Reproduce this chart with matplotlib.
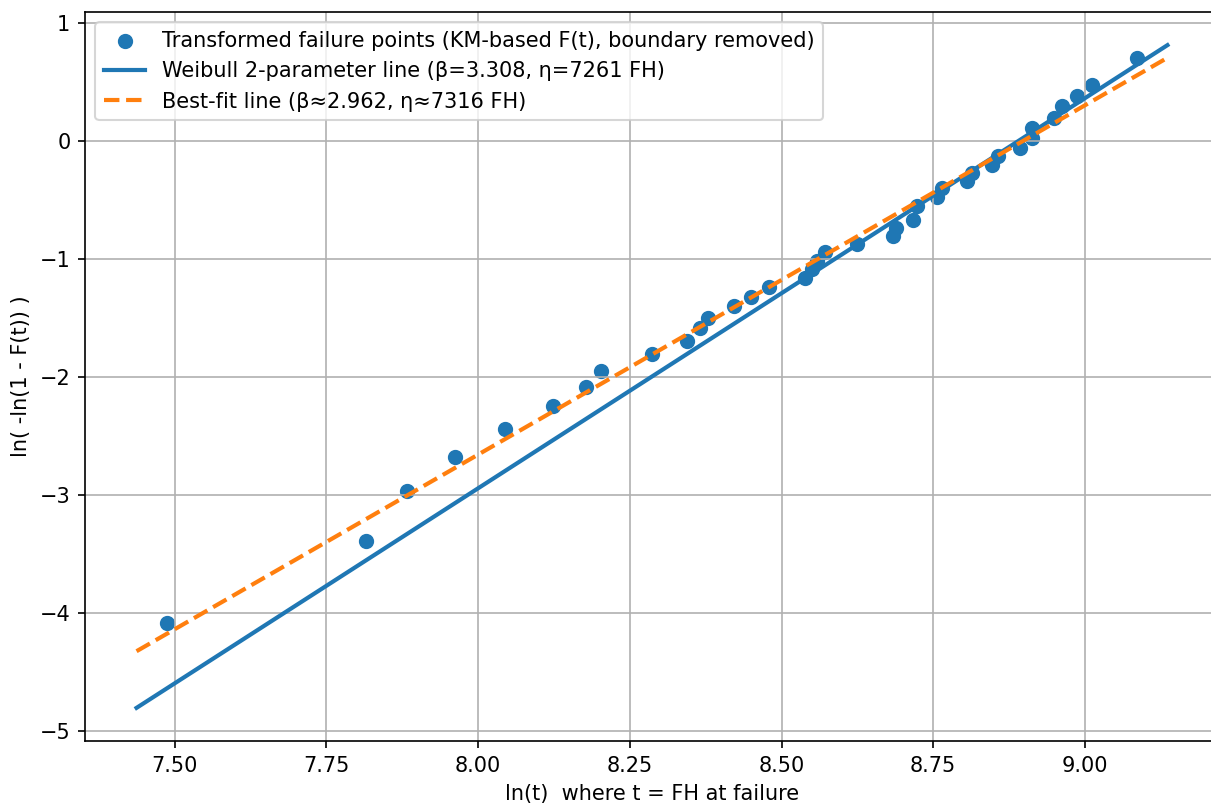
import matplotlib
matplotlib.use("Agg")
import matplotlib.pyplot as plt
import numpy as np

# transformed failure points: x = ln(t), y = ln(-ln(1 - F(t)))
ln_t = [7.487, 7.815, 7.883, 7.962, 8.045, 8.124, 8.178, 8.203, 8.287, 8.345,
        8.366, 8.378, 8.422, 8.450, 8.480, 8.538, 8.550, 8.559, 8.571, 8.625,
        8.683, 8.688, 8.716, 8.723, 8.757, 8.764, 8.805, 8.814, 8.847, 8.856,
        8.893, 8.913, 8.913, 8.949, 8.962, 8.987, 9.012, 9.086]
lnln = [-4.09, -3.39, -2.97, -2.68, -2.44, -2.25, -2.09, -1.95, -1.81, -1.70,
        -1.59, -1.50, -1.40, -1.32, -1.24, -1.16, -1.085, -1.02, -0.94, -0.87,
        -0.805, -0.74, -0.67, -0.55, -0.475, -0.40, -0.34, -0.27, -0.20, -0.13,
        -0.06, 0.025, 0.11, 0.195, 0.30, 0.38, 0.475, 0.70]

beta_w, eta_w = 3.308, 7261.0
beta_f, eta_f = 2.962, 7316.0

x = np.asarray(ln_t); y = np.asarray(lnln)
xx = np.linspace(x.min() - 0.05, x.max() + 0.05, 200)
y_w = beta_w * (xx - np.log(eta_w))
y_f = beta_f * (xx - np.log(eta_f))

DPI = 150
fig = plt.figure(figsize=(1211 / DPI, 810 / DPI), dpi=DPI)
ax = fig.add_axes([85 / 1211, 1 - 741 / 810, (1219 - 85) / 1211, (741 - 12) / 810])
ax.scatter(x, y, s=40, label="Transformed failure points (KM-based F(t), boundary removed)")
ax.plot(xx, y_w, lw=2, label=f"Weibull 2-parameter line (β={beta_w:.3f}, η={eta_w:.0f} FH)")
ax.plot(xx, y_f, "--", lw=2, label=f"Best-fit line (β≈{beta_f:.3f}, η≈{eta_f:.0f} FH)")
ax.set_xlabel("ln(t)  where t = FH at failure")
ax.set_ylabel("ln( -ln(1 - F(t)) )")
ax.grid(True)
ax.legend(loc="upper left")
fig.savefig("out.png", dpi=DPI)
plt.close(fig)
